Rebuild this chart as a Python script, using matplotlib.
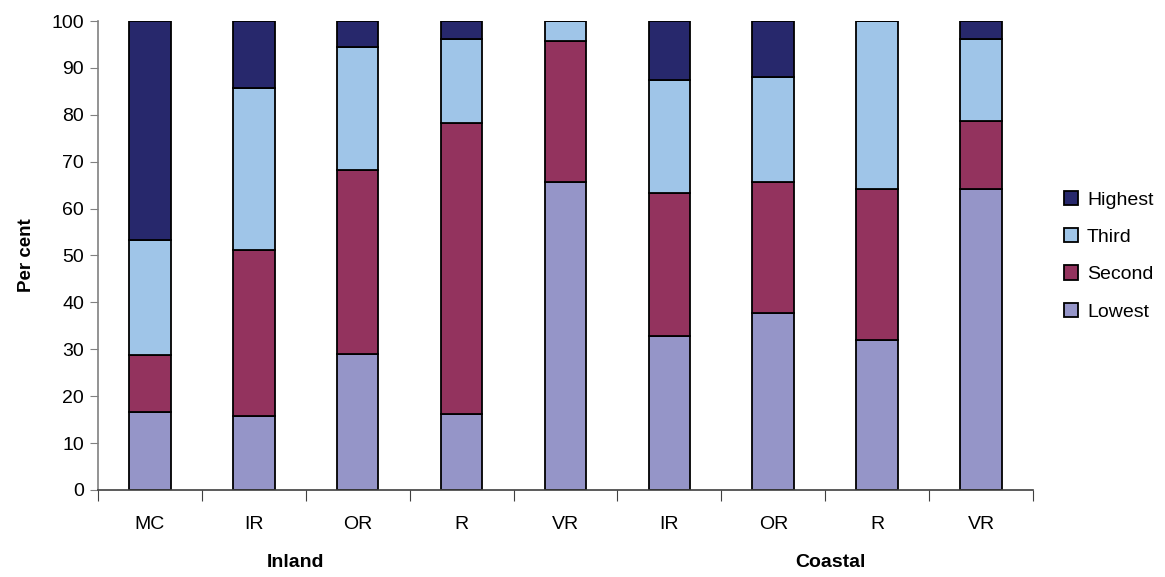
import matplotlib.pyplot as plt
import numpy as np

plt.rcParams['font.family'] = ['Liberation Sans', 'DejaVu Sans']

# categories and groups
categories = ['MC', 'IR', 'OR', 'R', 'VR', 'IR', 'OR', 'R', 'VR']
groups = ['Inland', 'Coastal']

# quartile shares (per cent)
lowest  = [16.6, 15.8, 29.0, 16.2, 65.7, 32.9, 37.8, 32.0, 64.1]
second  = [12.2, 35.4, 39.2, 62.0, 30.0, 30.4, 27.9, 32.1, 14.5]
third   = [24.5, 34.5, 26.2, 17.9,  4.3, 24.1, 22.4, 35.9, 17.5]
highest = [46.7, 14.3,  5.6,  3.9,  0.0, 12.6, 11.9,  0.0,  3.9]

series = [('Lowest', lowest, '#9595C8'),
          ('Second', second, '#93335E'),
          ('Third', third, '#9FC5E8'),
          ('Highest', highest, '#27286C')]

fig = plt.figure(figsize=(11.65, 5.77), dpi=100)
ax = fig.add_axes([0.0841, 0.1508, 0.8026, 0.8128])

x = np.arange(len(categories))
bottom = np.zeros(len(categories))
handles = []
for name, vals, col in series:
    vals = np.array(vals)
    b = ax.bar(x, vals, width=0.4, bottom=bottom, color=col,
               edgecolor='black', linewidth=1.3, label=name)
    handles.append(b)
    bottom += vals

ax.set_xlim(-0.5, len(categories) - 0.5)
ax.set_ylim(0, 100)
ax.set_yticks(np.arange(0, 101, 10))

# boundaries get the tick marks, centres get the labels
ax.set_xticks(np.arange(-0.5, len(categories), 1.0))
ax.set_xticklabels([])
ax.set_xticks(x, minor=True)
ax.set_xticklabels(categories, minor=True)
ax.tick_params(axis='x', which='major', length=8, direction='out', color='#404040')
ax.tick_params(axis='x', which='minor', length=0, pad=19, labelsize=14)
ax.tick_params(axis='y', length=6, color='#808080', labelsize=14, pad=4)

for s in ['top', 'right']:
    ax.spines[s].set_visible(False)
ax.spines['left'].set_color('#808080')
ax.spines['bottom'].set_color('#404040')
ax.spines['left'].set_linewidth(1.2)
ax.spines['bottom'].set_linewidth(1.2)

ax.set_ylabel('Per cent', fontsize=13.5, fontweight='bold', labelpad=12)

# group labels under the category labels
ax.text(1.40, -15.5, groups[0], ha='center', va='center', fontsize=14,
        fontweight='bold', transform=ax.transData, clip_on=False)
ax.text(6.55, -15.5, groups[1], ha='center', va='center', fontsize=14,
        fontweight='bold', transform=ax.transData, clip_on=False)

leg = fig.legend(handles[::-1], [h.get_label() for h in handles[::-1]],
                 loc='center left', bbox_to_anchor=(0.898, 0.557),
                 frameon=False, fontsize=14, handlelength=0.75,
                 handleheight=0.75, handletextpad=0.45, labelspacing=1.0)

fig.savefig('out.png', dpi=100)
